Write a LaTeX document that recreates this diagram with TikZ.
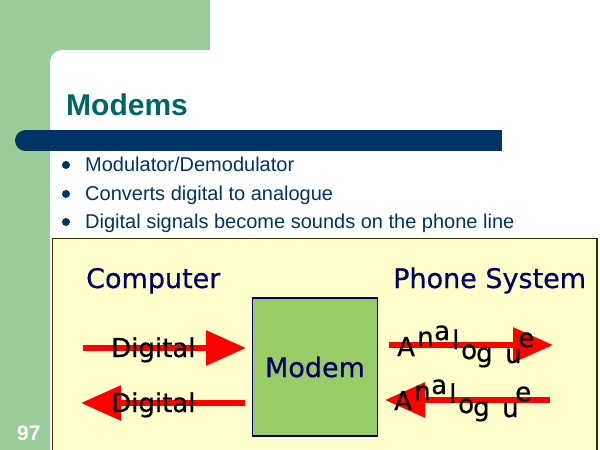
\documentclass[tikz,border=0pt]{standalone}
\usepackage{fontspec}
\setmainfont{Liberation Sans}
\newfontfamily\verdana[UprightFeatures={FakeBold=0.6}]{DejaVu Sans}
\usepackage{xcolor}
\usepackage{tikz}
\usetikzlibrary{arrows.meta}

\definecolor{bandgreen}{HTML}{99CC99}
\definecolor{titleteal}{HTML}{006666}
\definecolor{barnavy}{HTML}{003366}
\definecolor{boxyellow}{HTML}{FFFFCC}
\definecolor{boxedge}{HTML}{333300}
\definecolor{modemgreen}{HTML}{99CC66}
\definecolor{labelnavy}{HTML}{000066}

\begin{document}
\begin{tikzpicture}[x=1pt, y=-1pt,
    sig/.style={draw=red, line width=6pt, -{Triangle[length=40pt, width=34pt]}},
    bulletline/.style={anchor=base west, inner sep=0pt, text=barnavy, font=\fontsize{20}{24}\selectfont},
    side/.style={anchor=base west, inner sep=0pt, text=labelnavy, font=\verdana\fontsize{27}{32}\selectfont},
    sigtext/.style={anchor=base west, inner sep=0pt, font=\verdana\fontsize{26}{31}\selectfont},
    wave/.style={anchor=base west, inner sep=0pt, font=\verdana\fontsize{26}{31}\selectfont}]
    \useasboundingbox (0,0) rectangle (600,450);
    \clip (0,0) rectangle (600,450);

    % Slide background
    \fill[white] (0,0) rectangle (600,450);
    \fill[bandgreen] (0,0) rectangle (210,62);
    \fill[bandgreen] (0,0) rectangle (50,450);
    \fill[white, rounded corners=12pt] (50,50) rectangle (650,500);

    % Title and bar
    \node[anchor=base west, inner sep=0pt, text=titleteal, font=\bfseries\fontsize{30}{36}\selectfont] (title) at (66,115) {Modems};
    \fill[barnavy] (25.5,140.5) circle[radius=10.5pt];
    \fill[barnavy] (25.5,130) rectangle (502,151);

    % Bullet points
    \foreach \yb/\txt [count=\i] in {171/{Modulator/Demodulator}, 200/{Converts digital to analogue}, 228/{Digital signals become sounds on the phone line}} {
        \fill[barnavy] (66,\yb-6) circle[radius=4pt];
        \node[bulletline] (point\i) at (85,\yb) {\txt};
    }

    % Lower panel
    \filldraw[fill=boxyellow, draw=boxedge, line width=1.5pt] (52.5,238.5) rectangle (597,470);
    \node[side] (computer) at (86,288) {Computer};
    \node[side] (phone) at (393,288) {Phone System};
    \node[draw=labelnavy, line width=1.2pt, fill=modemgreen, minimum width=125, minimum height=138, text=labelnavy, font=\verdana\fontsize{27}{32}\selectfont] (modem) at (315,367) {Modem};

    % Arrow ends
    \coordinate (digOutA) at (83,348);
    \coordinate (digOutB) at (246,348);
    \coordinate (digInA) at (245,403);
    \coordinate (digInB) at (81,403);
    \coordinate (anaOutA) at (389,345);
    \coordinate (anaOutB) at (553,345);
    \coordinate (anaInA) at (550,400);
    \coordinate (anaInB) at (385,400);

    % Draw signals
    \draw[sig] (digOutA) -- (digOutB);
    \draw[sig] (digInA) -- (digInB);
    \draw[sig] (anaOutA) -- (anaOutB);
    \draw[sig] (anaInA) -- (anaInB);

    % Signal labels
    \node[sigtext] (digOut) at (111,357) {Digital};
    \node[sigtext] (digIn) at (111,412) {Digital};
    \foreach \ch/\dx/\dy [count=\i] in {A/0/0, n/20/-10, a/37/-16, l/55/-7, o/64/3, g/79/6, u/108/7, e/121/-9} {
        \node[wave] (anaOut\i) at (397+\dx,356+\dy) {\ch};
        \node[wave] (anaIn\i) at (394+\dx,410+\dy) {\ch};
    }

    % Slide number
    \node[anchor=base west, inner sep=0pt, text=white, font=\bfseries\fontsize{21}{25}\selectfont] (pagenum) at (17,440) {97};
\end{tikzpicture}
\end{document}
